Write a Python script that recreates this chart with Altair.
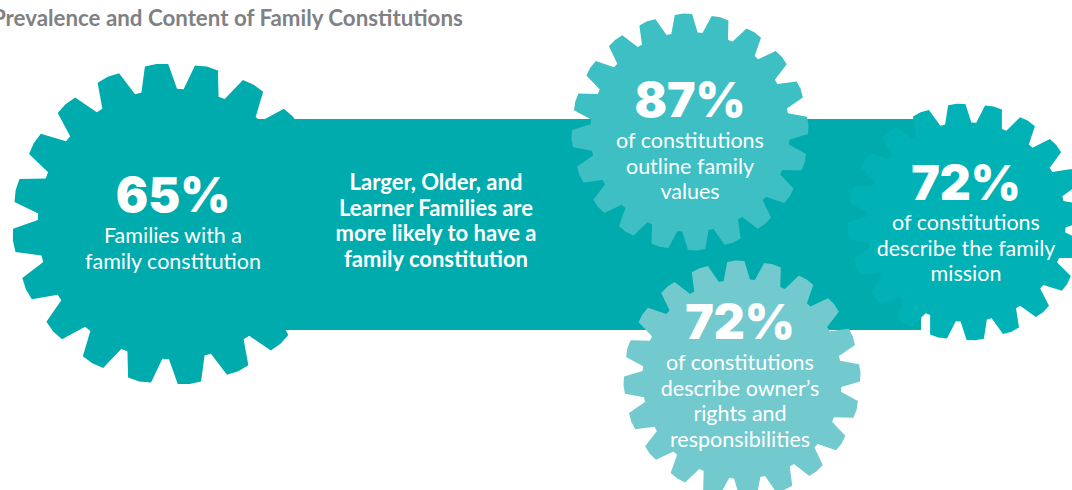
import math
import altair as alt
import pandas as pd

# Headline figures and their captions
TITLE = "Prevalence and Content of Family Constitutions"
PERCENTS = [65, 87, 72, 72]
CAPTIONS = [
    ["Families with a", "family constitution"],
    ["of constitutions", "outline family", "values"],
    ["of constitutions", "describe the family", "mission"],
    ["of constitutions", "describe owner\u2019s", "rights and", "responsibilities"],
]
CENTER_MESSAGE = [
    "Larger, Older, and",
    "Learner Families are",
    "more likely to have a",
    "family constitution",
]

# Layout of each gear, in the order of PERCENTS
GEARS = [
    dict(cx=173, cy=224, r=160, turn=-5.9, color="#00ABAE", text_x=173, num_y=212, cap_y=243),
    dict(cx=690, cy=132, r=118, turn=-3.2, color="#3DBFC4", text_x=690, num_y=117, cap_y=148),
    dict(cx=966, cy=222, r=118, turn=-4.5, color="#00B1B6", text_x=966, num_y=200, cap_y=230),
    dict(cx=742, cy=379, r=118, turn=-3.0, color="#72CACE", text_x=740, num_y=339, cap_y=370),
]
DRAW_ORDER = [0, 2, 1, 3]
LINE_STEP = 25.5
W, H = 1072, 490

x_scale = alt.Scale(domain=[0, W], range=[0, W], nice=False, zero=False)
y_scale = alt.Scale(domain=[0, H], range=[0, H], nice=False, zero=False)
x_enc = alt.X("x:Q", scale=x_scale, axis=None)
y_enc = alt.Y("y:Q", scale=y_scale, axis=None)


def gear_path(turn, teeth=20, root=0.845, tip_half=4.2, base_half=7.6):
    """Symbol path for a toothed wheel whose tips reach radius 1."""
    points = []
    for k in range(teeth):
        a = turn + k * 360 / teeth
        for offset, radius in [
            (-base_half, root),
            (-tip_half, 1.0),
            (0, 1.006),
            (tip_half, 1.0),
            (base_half, root),
        ]:
            t = math.radians(a + offset)
            points.append((radius * math.sin(t), -radius * math.cos(t)))
    return "M" + "L".join(f"{px:.4f},{py:.4f}" for px, py in points) + "Z"


band = (
    alt.Chart(pd.DataFrame({"x": [250], "x2": [921], "y": [119], "y2": [330]}))
    .mark_rect(color="#00ABAE", clip=True)
    .encode(x=x_enc, x2="x2:Q", y=y_enc, y2="y2:Q")
)

layers = [band]
for i in DRAW_ORDER:
    g = GEARS[i]
    layers.append(
        alt.Chart(pd.DataFrame({"x": [g["cx"]], "y": [g["cy"]]}))
        .mark_point(
            shape=gear_path(g["turn"]),
            size=(2 * g["r"]) ** 2,
            filled=True,
            opacity=1,
            color=g["color"],
            clip=True,
        )
        .encode(x=x_enc, y=y_enc)
    )

numbers = pd.DataFrame(
    {
        "label": [f"{p}%" for p in PERCENTS],
        "x": [g["text_x"] for g in GEARS],
        "y": [g["num_y"] for g in GEARS],
    }
)
captions = pd.DataFrame(
    [
        {"label": line, "x": g["text_x"], "y": g["cap_y"] + n * LINE_STEP}
        for g, lines in zip(GEARS, CAPTIONS)
        for n, line in enumerate(lines)
    ]
)
message = pd.DataFrame(
    [
        {"label": line, "x": 436, "y": 190 + n * 25.7}
        for n, line in enumerate(CENTER_MESSAGE)
    ]
)
heading = pd.DataFrame({"label": [TITLE], "x": [-8], "y": [26]})

layers += [
    alt.Chart(numbers)
    .mark_text(font="Inter", fontWeight=900, fontSize=48, color="white", baseline="alphabetic", clip=True)
    .encode(x=x_enc, y=y_enc, text="label:N"),
    alt.Chart(captions)
    .mark_text(font="Lato", fontSize=21.5, color="white", baseline="alphabetic", clip=True)
    .encode(x=x_enc, y=y_enc, text="label:N"),
    alt.Chart(message)
    .mark_text(font="Lato", fontWeight="bold", fontSize=22, color="white", baseline="alphabetic", clip=True)
    .encode(x=x_enc, y=y_enc, text="label:N"),
    alt.Chart(heading)
    .mark_text(font="Lato", fontWeight="bold", fontSize=22.3, color="#808184", align="left", baseline="alphabetic", clip=True)
    .encode(x=x_enc, y=y_enc, text="label:N"),
]

chart = (
    alt.layer(*layers)
    .properties(
        width=W,
        height=H,
        padding=0,
        background="white",
        autosize=alt.AutoSizeParams(type="none"),
    )
    .configure_view(stroke=None)
)

chart.save("out.html", embed_options={"renderer": "svg", "actions": False})
